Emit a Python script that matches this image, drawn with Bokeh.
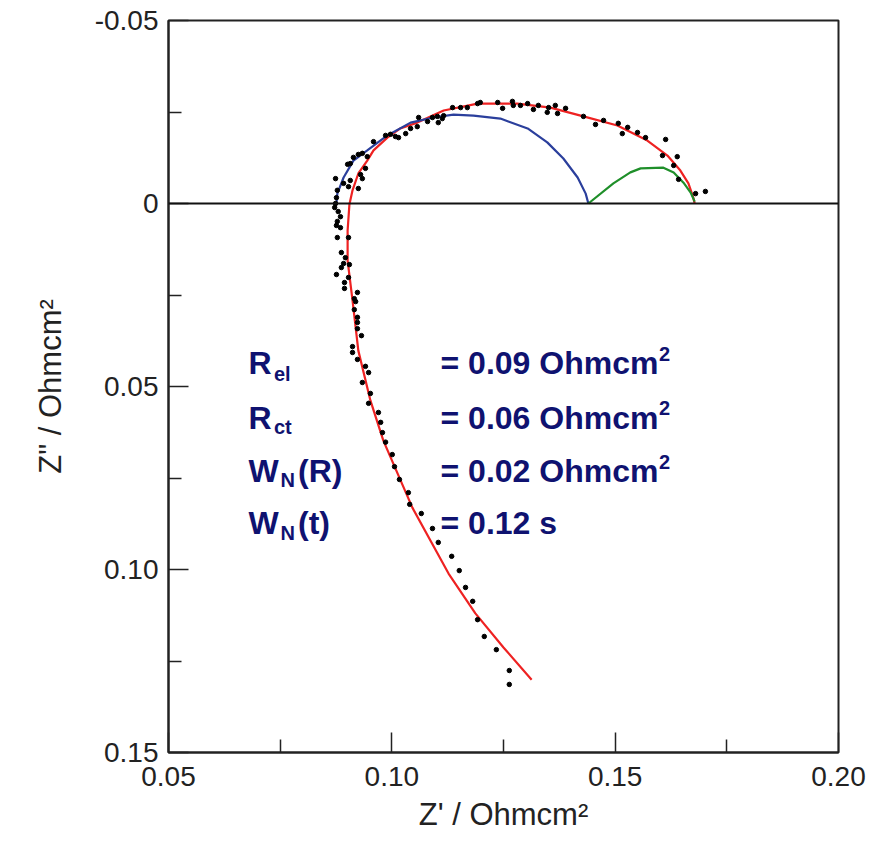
from bokeh.plotting import figure
from bokeh.models import Range1d, FixedTicker, Span, Label
from bokeh.embed import file_html
from bokeh.resources import INLINE

# ---------------- data ----------------
meas_x = [0.1263, 0.1263, 0.1234, 0.1207, 0.1192, 0.1181, 0.1165, 0.1151, 0.1134, 0.1104,
          0.1091, 0.1066, 0.1040, 0.1037, 0.1017, 0.1006, 0.1001, 0.0986, 0.0979, 0.0975,
          0.0970, 0.0948, 0.0952, 0.0934, 0.0948, 0.0941, 0.0923, 0.0912, 0.0912, 0.0932,
          0.0923, 0.0923, 0.0923, 0.0916, 0.0919, 0.0916, 0.0923, 0.0894, 0.0894, 0.0903,
          0.0876, 0.0887, 0.0905, 0.0892, 0.0896, 0.0887, 0.0903, 0.0878, 0.0885, 0.0876,
          0.0878, 0.0885, 0.0880, 0.0872,
          0.0874, 0.0876, 0.0878, 0.0874, 0.0892, 0.0903, 0.0907, 0.0925, 0.0930, 0.0934,
          0.0941, 0.0901, 0.0907, 0.0914, 0.0925, 0.0934, 0.0945, 0.0959, 0.0986, 0.0997,
          0.1008, 0.1015, 0.1031, 0.1042, 0.1057, 0.1060, 0.1080, 0.1091, 0.1102, 0.1104,
          0.1113, 0.1116, 0.1136, 0.1154, 0.1169, 0.1192, 0.1198, 0.1237, 0.1248, 0.1270,
          0.1272, 0.1288, 0.1304, 0.1317, 0.1328, 0.1348, 0.1351, 0.1366, 0.1371, 0.1389,
          0.1429, 0.1456, 0.1474, 0.1507, 0.1516, 0.1528, 0.1550, 0.1568, 0.1613, 0.1606,
          0.1639, 0.1631, 0.1642, 0.1680, 0.1702]
meas_y = [0.1314, 0.1276, 0.1219, 0.1183, 0.1137, 0.1087, 0.1049, 0.1003, 0.0964, 0.0926,
          0.0888, 0.0847, 0.0822, 0.0790, 0.0754, 0.0719, 0.0686, 0.0652, 0.0626, 0.0598,
          0.0571, 0.0546, 0.0519, 0.0489, 0.0462, 0.0445, 0.0426, 0.0407, 0.0391, 0.0361,
          0.0342, 0.0325, 0.0311, 0.0290, 0.0268, 0.0260, 0.0243, 0.0232, 0.0216, 0.0202,
          0.0194, 0.0175, 0.0167, 0.0164, 0.0148, 0.0134, 0.0093, 0.0093, 0.0066, 0.0060,
          0.0049, 0.0036, 0.0022, 0.0011,
          0.0000, -0.0016, -0.0036, -0.0068, -0.0055, -0.0046, -0.0063, -0.0041, -0.0079, -0.0068,
          -0.0096, -0.0107, -0.0109, -0.0126, -0.0134, -0.0137, -0.0128, -0.0169, -0.0186, -0.0189,
          -0.0183, -0.0180, -0.0191, -0.0205, -0.0210, -0.0235, -0.0224, -0.0235, -0.0238, -0.0221,
          -0.0232, -0.0240, -0.0262, -0.0262, -0.0262, -0.0273, -0.0276, -0.0276, -0.0260, -0.0279,
          -0.0268, -0.0268, -0.0273, -0.0257, -0.0268, -0.0249, -0.0262, -0.0268, -0.0246, -0.0260,
          -0.0238, -0.0216, -0.0227, -0.0219, -0.0191, -0.0208, -0.0194, -0.0180, -0.0175, -0.0131,
          -0.0128, -0.0104, -0.0066, -0.0027, -0.0033]

fit_x = [0.1313, 0.1250, 0.1187, 0.1127, 0.1046, 0.0981, 0.0952, 0.0925, 0.0912, 0.0901,
         0.0901, 0.0905, 0.0912, 0.0925, 0.0945, 0.0959, 0.0990, 0.1019, 0.1057, 0.1116,
         0.1192, 0.1281, 0.1355, 0.1429, 0.1505, 0.1572, 0.1617, 0.1646, 0.1664, 0.1675, 0.1678]
fit_y = [0.1301, 0.1213, 0.1120, 0.1011, 0.0831, 0.0648, 0.0538, 0.0402, 0.0265, 0.0156,
         0.0074, 0.0003, -0.0036, -0.0082, -0.0117, -0.0145, -0.0180, -0.0205, -0.0221, -0.0254,
         -0.0273, -0.0273, -0.0262, -0.0238, -0.0213, -0.0172, -0.0131, -0.0090, -0.0055, -0.0016, 0.0000]

rct_x = [0.0876, 0.0878, 0.0892, 0.0914, 0.0945, 0.0990, 0.1042, 0.1093, 0.1138, 0.1183,
         0.1243, 0.1304, 0.1348, 0.1384, 0.1416, 0.1434, 0.1440]
rct_y = [0.0000, -0.0027, -0.0071, -0.0117, -0.0145, -0.0186, -0.0221, -0.0235, -0.0243, -0.0240,
         -0.0232, -0.0205, -0.0167, -0.0123, -0.0071, -0.0027, 0.0000]

wn_x = [0.1440, 0.1496, 0.1534, 0.1557, 0.1608, 0.1631, 0.1653, 0.1669, 0.1678]
wn_y = [0.0000, -0.0055, -0.0085, -0.0096, -0.0098, -0.0085, -0.0057, -0.0030, -0.0005]

x_ticks = [0.05, 0.10, 0.15, 0.20]
x_tick_labels = ["0.05", "0.10", "0.15", "0.20"]
x_minor = [0.075, 0.125, 0.175]
y_ticks = [-0.05, 0.0, 0.05, 0.10, 0.15]
y_tick_labels = ["-0.05", "0", "0.05", "0.10", "0.15"]
y_minor = [-0.025, 0.025, 0.075, 0.125]

param_names = ["R", "R", "W", "W"]
param_subs = ["el", "ct", "N", "N"]
param_tails = ["", "", "(R)", "(t)"]
param_values = ["= 0.09 Ohmcm", "= 0.06 Ohmcm", "= 0.02 Ohmcm", "= 0.12 s"]
param_sups = ["2", "2", "2", ""]

# ---------------- figure ----------------
FONT = "Liberation Sans"
NAVY = "#0f1270"
INK = "#222222"

p = figure(width=891, height=843,
           x_range=Range1d(0.05, 0.20), y_range=Range1d(0.15, -0.05),
           output_backend="svg", toolbar_location=None,
           min_border_left=168, min_border_right=53,
           min_border_top=20, min_border_bottom=91)
p.background_fill_color = "white"
p.border_fill_color = "white"
p.outline_line_color = INK
p.outline_line_width = 2
p.grid.visible = False

for ax, ticks, minor, labels in ((p.xaxis[0], x_ticks, x_minor, x_tick_labels),
                                 (p.yaxis[0], y_ticks, y_minor, y_tick_labels)):
    ax.ticker = FixedTicker(ticks=ticks, minor_ticks=minor)
    ax.major_label_overrides = dict(zip(ticks, labels))
    ax.major_tick_in = 20
    ax.major_tick_out = 0
    ax.minor_tick_in = 13
    ax.minor_tick_out = 0
    ax.axis_line_width = 2
    ax.axis_line_color = INK
    ax.major_tick_line_width = 1.5
    ax.minor_tick_line_width = 1.5
    ax.major_tick_line_color = INK
    ax.minor_tick_line_color = INK
    ax.major_label_text_font = FONT
    ax.major_label_text_font_size = "28px"
    ax.major_label_text_color = INK
    ax.axis_label_text_font = FONT
    ax.axis_label_text_font_size = "31px"
    ax.axis_label_text_font_style = "normal"
    ax.axis_label_text_color = INK

p.xaxis.axis_label = "Z' / Ohmcm\u00b2"
p.yaxis.axis_label = "Z\" / Ohmcm\u00b2"
p.xaxis.major_label_standoff = 14
p.xaxis.axis_label_standoff = 8
p.yaxis.major_label_standoff = 10
p.yaxis.axis_label_standoff = 24

p.add_layout(Span(location=0, dimension="width", line_color="#111111", line_width=2))

p.line(fit_x, fit_y, line_color="#ee2222", line_width=2.2)
p.line(rct_x, rct_y, line_color="#2b3f9c", line_width=2.2)
p.line(wn_x, wn_y, line_color="#1f8f2a", line_width=2.2)
p.scatter(meas_x, meas_y, size=4.5, marker="circle", fill_color="black", line_color="black")

# parameter annotation (positions in data units)
row_base = [0.0437, 0.0585, 0.0730, 0.0872]
row_sub = [0.0465, 0.0612, 0.0755, 0.0900]
name_x = 0.0679
sub_x = {"R": 0.0736, "W": 0.0751}
tail_x = 0.0790
value_x = 0.1109
sup_x = 0.1598
sup_dy = 0.0025
for name, sub, tail, val, sup, yb, ys in zip(param_names, param_subs, param_tails,
                                             param_values, param_sups, row_base, row_sub):
    common = dict(text_font=FONT, text_font_style="bold", text_color=NAVY, text_baseline="alphabetic")
    p.add_layout(Label(x=name_x, y=yb, text=name, text_font_size="32px", **common))
    p.add_layout(Label(x=sub_x[name], y=ys, text=sub, text_font_size="20px", **common))
    if tail:
        p.add_layout(Label(x=tail_x, y=yb, text=tail, text_font_size="32px", **common))
    p.add_layout(Label(x=value_x, y=yb, text=val, text_font_size="32px", **common))
    if sup:
        p.add_layout(Label(x=sup_x, y=yb - sup_dy, text=sup, text_font_size="20px", **common))

open("out.html", "w").write(file_html(p, INLINE))
